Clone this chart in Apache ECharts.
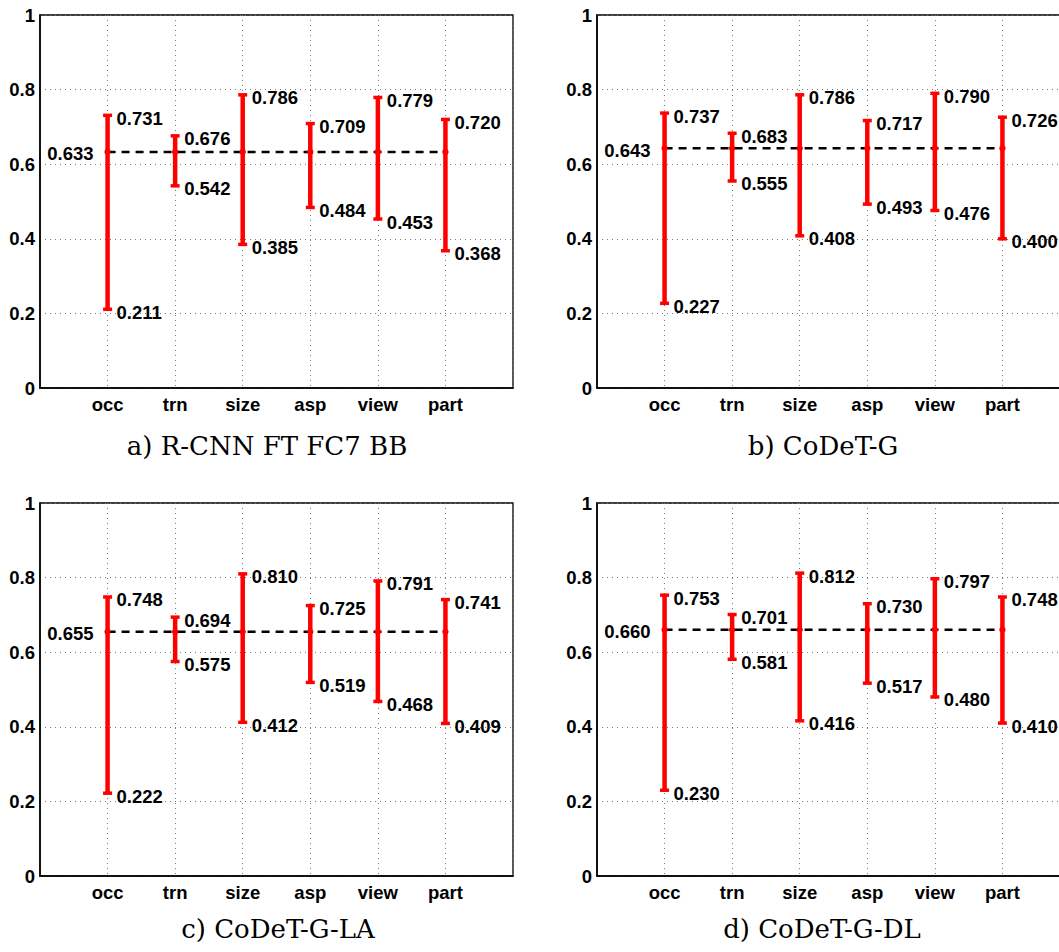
<!DOCTYPE html>
<html>
<head>
<meta charset="utf-8">
<script src="https://cdn.jsdelivr.net/npm/echarts@6/dist/echarts.min.js"></script>
<style>
html,body{margin:0;padding:0;background:#fff;overflow:hidden;width:1059px;height:952px;}
#main{width:1080px;height:952px;}
</style>
</head>
<body>
<div id="main"></div>
<script>
const categories = ['occ', 'trn', 'size', 'asp', 'view', 'part'];
const yTicks = [0, 0.2, 0.4, 0.6, 0.8, 1];
const captions = ['a) R-CNN FT FC7 BB', 'b) CoDeT-G', 'c) CoDeT-G-LA', 'd) CoDeT-G-DL'];

const meanA = 0.633;
const highA = [0.731, 0.676, 0.786, 0.709, 0.779, 0.720];
const lowA  = [0.211, 0.542, 0.385, 0.484, 0.453, 0.368];

const meanB = 0.643;
const highB = [0.737, 0.683, 0.786, 0.717, 0.790, 0.726];
const lowB  = [0.227, 0.555, 0.408, 0.493, 0.476, 0.400];

const meanC = 0.655;
const highC = [0.748, 0.694, 0.810, 0.725, 0.791, 0.741];
const lowC  = [0.222, 0.575, 0.412, 0.519, 0.468, 0.409];

const meanD = 0.660;
const highD = [0.753, 0.701, 0.812, 0.730, 0.797, 0.748];
const lowD  = [0.230, 0.581, 0.416, 0.517, 0.480, 0.410];

const panels = [
  {mean: meanA, high: highA, low: lowA},
  {mean: meanB, high: highB, low: lowB},
  {mean: meanC, high: highC, low: lowC},
  {mean: meanD, high: highD, low: lowD}
];

// layout
const gridPos = [
  {left: 40, top: 15},
  {left: 597, top: 15},
  {left: 40, top: 503},
  {left: 597, top: 503}
];
const gridW = 473, gridH = 373;
const captionPos = [[267, 446], [823, 446], [278, 929], [822, 929]];

const labelFont = '"Liberation Sans", Arial, sans-serif';
const fs = 18.5;

const chart = echarts.init(document.getElementById('main'), null, {renderer: 'svg'});

const grids = [], xAxes = [], yAxes = [], series = [], graphics = [];

panels.forEach((p, k) => {
  grids.push({
    left: gridPos[k].left, top: gridPos[k].top, width: gridW, height: gridH,
    show: true, borderColor: '#000', borderWidth: 1.3, backgroundColor: '#fff'
  });
  xAxes.push({
    gridIndex: k, type: 'value', min: 0, max: categories.length + 1, interval: 1,
    axisLine: {show: true, onZero: false, lineStyle: {color: '#000', width: 1.6}},
    axisTick: {show: false},
    splitLine: {show: true, lineStyle: {color: '#777', width: 1, type: [1, 4]}},
    axisLabel: {
      margin: 7, color: '#000', fontFamily: labelFont, fontWeight: 'bold', fontSize: fs,
      formatter: v => categories[v - 1] || ''
    }
  });
  yAxes.push({
    gridIndex: k, type: 'value', min: 0, max: 1, interval: 0.2,
    axisLine: {show: true, onZero: false, lineStyle: {color: '#000', width: 1.6}},
    axisTick: {show: false},
    splitLine: {show: true, lineStyle: {color: '#777', width: 1, type: [1, 4]}},
    axisLabel: {
      margin: 5, color: '#000', fontFamily: labelFont, fontWeight: 'bold', fontSize: fs,
      formatter: v => (v === 0 || v === 1) ? String(v) : v.toFixed(1)
    }
  });
  // dashed mean line
  series.push({
    type: 'line', xAxisIndex: k, yAxisIndex: k, z: 3,
    symbol: 'none', silent: true,
    data: categories.map((c, i) => [i + 1, p.mean]),
    lineStyle: {color: '#000', width: 2.5, type: [8, 6]}
  });
  // error bars
  series.push({
    type: 'custom', xAxisIndex: k, yAxisIndex: k, z: 4,
    data: categories.map((c, i) => [i + 1, p.low[i], p.high[i], p.mean]),
    renderItem: (params, api) => {
      const x = api.value(0);
      const lo = api.coord([x, api.value(1)]);
      const hi = api.coord([x, api.value(2)]);
      const mid = api.coord([x, api.value(3)]);
      const red = '#ff0000';
      const cw = 4.5;
      const font = 'bold ' + fs + 'px ' + labelFont;
      const children = [
        {type: 'line', shape: {x1: hi[0], y1: hi[1], x2: lo[0], y2: lo[1]}, style: {stroke: red, lineWidth: 4.5}},
        {type: 'line', shape: {x1: hi[0] - cw, y1: hi[1], x2: hi[0] + cw, y2: hi[1]}, style: {stroke: red, lineWidth: 3.5}},
        {type: 'line', shape: {x1: lo[0] - cw, y1: lo[1], x2: lo[0] + cw, y2: lo[1]}, style: {stroke: red, lineWidth: 3.5}},
        {type: 'circle', shape: {cx: mid[0], cy: mid[1], r: 3.2}, style: {fill: red}},
        {type: 'text', style: {x: hi[0] + 9, y: hi[1] + 3, text: api.value(2).toFixed(3), fill: '#000',
          font: font, textAlign: 'left', textVerticalAlign: 'middle'}},
        {type: 'text', style: {x: lo[0] + 9, y: lo[1] + 3, text: api.value(1).toFixed(3), fill: '#000',
          font: font, textAlign: 'left', textVerticalAlign: 'middle'}}
      ];
      if (params.dataIndex === 0) {
        children.push({type: 'text', style: {x: mid[0] - 14, y: mid[1] + 2, text: api.value(3).toFixed(3), fill: '#000',
          font: font, textAlign: 'right', textVerticalAlign: 'middle'}});
      }
      return {type: 'group', children};
    }
  });
  graphics.push({
    type: 'text', x: captionPos[k][0], y: captionPos[k][1],
    style: {text: captions[k], fill: '#000', font: '26px "DejaVu Serif", serif',
      textAlign: 'center', textVerticalAlign: 'middle'}
  });
});

chart.setOption({
  animation: false,
  backgroundColor: '#fff',
  grid: grids,
  xAxis: xAxes,
  yAxis: yAxes,
  series: series,
  graphic: graphics
});
</script>
</body>
</html>
